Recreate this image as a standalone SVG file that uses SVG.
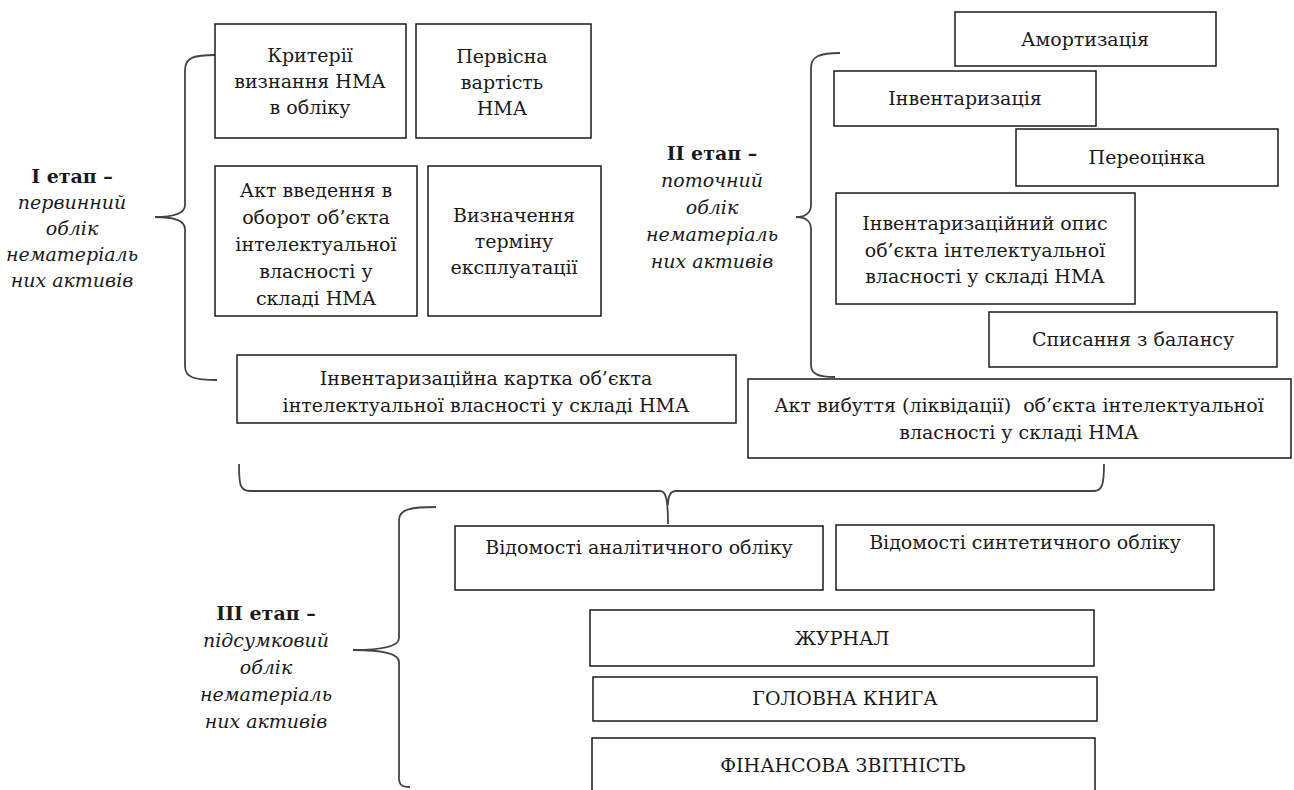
<svg xmlns="http://www.w3.org/2000/svg" width="1294" height="790" viewBox="0 0 1294 790">
<style>
  .box{fill:#fff;stroke:#1a1a1a;stroke-width:1.5}
  .t{font-family:"DejaVu Serif","Liberation Serif",serif;font-size:19px;fill:#1a1a1a;text-anchor:middle}
  .b{font-weight:bold}
  .i{font-style:italic}
  .br{fill:none;stroke:#444;stroke-width:1.8}
</style>
<rect width="1294" height="790" fill="#fff"/>
<g id="connectors">
  <path class="br" d="M215,55 C195,55 185,57 185,70 L185,205 C185,213 175,217 155,217 C175,217 185,221 185,229 L185,366 C185,378 195,380 217,380"/>
  <path class="br" d="M840,53 C820,53 811,56 811,68 L811,205 C811,213 805,217 796,217 C805,217 811,221 811,229 L811,365 C811,374 818,377 835,377"/>
  <path class="br" d="M436,507 C412,507 399,509 399,520 L399,638 C399,646 385,650 353,650 C385,650 399,654 399,662 L399,778 C399,785 402,787 410,787"/>
  <path class="br" d="M239,464 C239,485 240,491 250,491 L660,491 C665,491 668,496 668,524 M668,505 C668,496 671,491 676,491 L1094,491 C1102,491 1104,485 1104,464"/>
</g>
<g id="stage1">
  <text class="t" x="72" y="183"><tspan class="b">I етап –</tspan><tspan class="i" x="72" dy="26">первинний</tspan><tspan class="i" x="72" dy="26">облік</tspan><tspan class="i" x="72" dy="26">нематеріаль</tspan><tspan class="i" x="72" dy="26">них активів</tspan></text>
</g>
<g id="stage2">
  <text class="t" x="712" y="160"><tspan class="b">II етап –</tspan><tspan class="i" x="712" dy="27">поточний</tspan><tspan class="i" x="712" dy="27">облік</tspan><tspan class="i" x="712" dy="27">нематеріаль</tspan><tspan class="i" x="712" dy="27">них активів</tspan></text>
</g>
<g id="stage3">
  <text class="t" x="266" y="620"><tspan class="b">III етап –</tspan><tspan class="i" x="266" dy="27">підсумковий</tspan><tspan class="i" x="266" dy="27">облік</tspan><tspan class="i" x="266" dy="27">нематеріаль</tspan><tspan class="i" x="266" dy="27">них активів</tspan></text>
</g>
<g id="n1"><rect class="box" x="215" y="24" width="191" height="114"/>
  <text class="t" x="310" y="62">Критерії<tspan x="310" dy="26">визнання НМА</tspan><tspan x="310" dy="26">в обліку</tspan></text></g>
<g id="n2"><rect class="box" x="416" y="24" width="175" height="114"/>
  <text class="t" x="502" y="63">Первісна<tspan x="502" dy="26">вартість</tspan><tspan x="502" dy="26">НМА</tspan></text></g>
<g id="n3"><rect class="box" x="215" y="166" width="202" height="150"/>
  <text class="t" x="316" y="197">Акт введення в<tspan x="316" dy="27">оборот об’єкта</tspan><tspan x="316" dy="27">інтелектуальної</tspan><tspan x="316" dy="27">власності у</tspan><tspan x="316" dy="27">складі НМА</tspan></text></g>
<g id="n4"><rect class="box" x="428" y="166" width="173" height="150"/>
  <text class="t" x="514" y="222">Визначення<tspan x="514" dy="26">терміну</tspan><tspan x="514" dy="26">експлуатації</tspan></text></g>
<g id="n5"><rect class="box" x="237" y="355" width="499" height="68"/>
  <text class="t" x="486" y="385">Інвентаризаційна картка об’єкта<tspan x="486" dy="27">інтелектуальної власності у складі НМА</tspan></text></g>
<g id="n6"><rect class="box" x="955" y="12" width="261" height="54"/>
  <text class="t" x="1085" y="46">Амортизація</text></g>
<g id="n7"><rect class="box" x="834" y="71" width="262" height="55"/>
  <text class="t" x="965" y="105">Інвентаризація</text></g>
<g id="n8"><rect class="box" x="1016" y="129" width="262" height="57"/>
  <text class="t" x="1147" y="164">Переоцінка</text></g>
<g id="n9"><rect class="box" x="836" y="193" width="299" height="111"/>
  <text class="t" x="985" y="230">Інвентаризаційний опис<tspan x="985" dy="27">об’єкта інтелектуальної</tspan><tspan x="985" dy="26">власності у складі НМА</tspan></text></g>
<g id="n10"><rect class="box" x="989" y="312" width="288" height="55"/>
  <text class="t" x="1133" y="346">Списання з балансу</text></g>
<g id="n11"><rect class="box" x="748" y="379" width="543" height="79"/>
  <text class="t" x="1019" y="412" style="white-space:pre">Акт вибуття (ліквідації)  об’єкта інтелектуальної<tspan x="1019" dy="27">власності у складі НМА</tspan></text></g>
<g id="n12"><rect class="box" x="455" y="526" width="368" height="64"/>
  <text class="t" x="639" y="554">Відомості аналітичного обліку</text></g>
<g id="n13"><rect class="box" x="836" y="525" width="378" height="65"/>
  <text class="t" x="1025" y="549">Відомості синтетичного обліку</text></g>
<g id="n14"><rect class="box" x="590" y="610" width="504" height="56"/>
  <text class="t" x="842" y="645">ЖУРНАЛ</text></g>
<g id="n15"><rect class="box" x="593" y="677" width="504" height="44"/>
  <text class="t" x="845" y="705">ГОЛОВНА КНИГА</text></g>
<g id="n16"><rect class="box" x="592" y="738" width="503" height="60"/>
  <text class="t" x="843" y="772">ФІНАНСОВА ЗВІТНІСТЬ</text></g>
</svg>
